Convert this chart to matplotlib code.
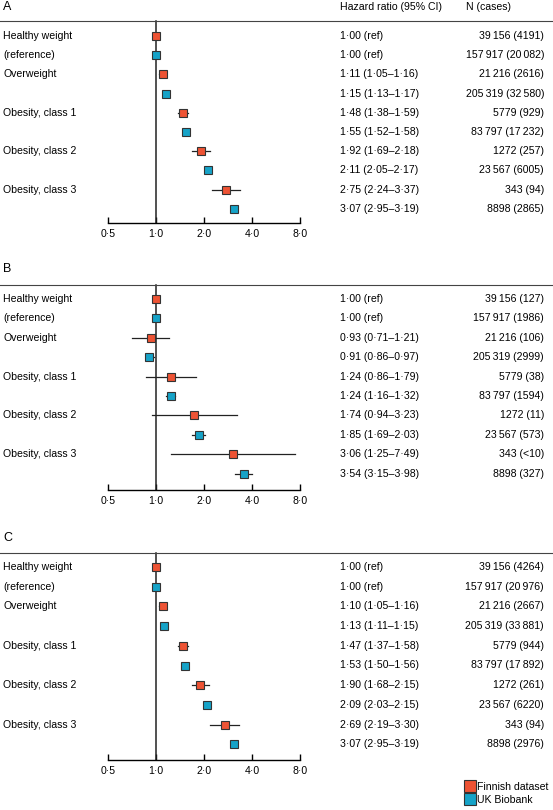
import numpy as np
import matplotlib.pyplot as plt
from matplotlib.lines import Line2D

W, H = 553, 810
ORANGE = "#EE5334"
TEAL = "#16A3C8"

row_labels = ["Healthy weight", "(reference)", "Overweight", "", "Obesity, class 1", "",
              "Obesity, class 2", "", "Obesity, class 3", ""]

# per panel: HR, lo, hi for rows (Finnish / UK Biobank alternating), N text
panels = {
    "A": dict(
        hr=[1.00, 1.00, 1.11, 1.15, 1.48, 1.55, 1.92, 2.11, 2.75, 3.07],
        lo=[None, None, 1.05, 1.13, 1.38, 1.52, 1.69, 2.05, 2.24, 2.95],
        hi=[None, None, 1.16, 1.17, 1.59, 1.58, 2.18, 2.17, 3.37, 3.19],
        n=["39 156 (4191)", "157 917 (20 082)", "21 216 (2616)", "205 319 (32 580)", "5779 (929)",
           "83 797 (17 232)", "1272 (257)", "23 567 (6005)", "343 (94)", "8898 (2865)"]),
    "B": dict(
        hr=[1.00, 1.00, 0.93, 0.91, 1.24, 1.24, 1.74, 1.85, 3.06, 3.54],
        lo=[None, None, 0.71, 0.86, 0.86, 1.16, 0.94, 1.69, 1.25, 3.15],
        hi=[None, None, 1.21, 0.97, 1.79, 1.32, 3.23, 2.03, 7.49, 3.98],
        n=["39 156 (127)", "157 917 (1986)", "21 216 (106)", "205 319 (2999)", "5779 (38)",
           "83 797 (1594)", "1272 (11)", "23 567 (573)", "343 (<10)", "8898 (327)"]),
    "C": dict(
        hr=[1.00, 1.00, 1.10, 1.13, 1.47, 1.53, 1.90, 2.09, 2.69, 3.07],
        lo=[None, None, 1.05, 1.11, 1.37, 1.50, 1.68, 2.03, 2.19, 2.95],
        hi=[None, None, 1.16, 1.15, 1.58, 1.56, 2.15, 2.15, 3.30, 3.19],
        n=["39 156 (4264)", "157 917 (20 976)", "21 216 (2667)", "205 319 (33 881)", "5779 (944)",
           "83 797 (17 892)", "1272 (261)", "23 567 (6220)", "343 (94)", "8898 (2976)"]),
}
ticks = [0.5, 1, 2, 4, 8]

# layout in pixels: panel letter y, separator y, axis y, first row y, row spacing
layout = {"A": (7, 21, 223, 36, 19.2), "B": (269, 285, 490, 299, 19.4), "C": (538, 553, 760, 567, 19.7)}

plt.rcParams["font.family"] = ["Liberation Sans", "DejaVu Sans"]
plt.rcParams["font.size"] = 7.6
fig = plt.figure(figsize=(W / 100, H / 100), dpi=100)

def fx(x): return x / W
def fy(y): return 1 - y / H

def fmt(v): return f"{v:.2f}".replace(".", "·")

def nfmt(s):
    num, case = s.split(" (")
    return num.replace(" ", "\u2009") + " (" + case.replace(" ", "\u2009")

ax_l, ax_r = 108, 300  # x of 0.5 and 8.0
for key, d in panels.items():
    ly, sep, bot, y0, dy = layout[key]
    ax = fig.add_axes([fx(ax_l), fy(bot), (ax_r - ax_l) / W, (bot - sep) / H])
    ax.set_xscale("log", base=2)
    ax.set_xlim(0.5, 8)
    ax.set_ylim(bot, sep)
    for s in ["top", "right", "left"]:
        ax.spines[s].set_visible(False)
    ax.spines["bottom"].set_linewidth(1.0)
    ax.set_yticks([])
    ax.set_xticks(ticks)
    ax.set_xticklabels([f"{t:.1f}".replace(".", "·") for t in ticks])
    ax.xaxis.set_minor_locator(plt.NullLocator())
    ax.tick_params(axis="x", direction="in", length=4, width=1.0, pad=4)
    ax.axvline(1, color="#222222", lw=1.1, clip_on=False)
    fig.add_artist(Line2D([0, 1], [fy(sep), fy(sep)], color="#444444", lw=0.8))
    fig.text(fx(3), fy(ly), key, fontsize=9, va="center", ha="left")
    if key == "A":
        fig.text(fx(340), fy(ly), "Hazard ratio (95% CI)", va="center")
        fig.text(fx(466), fy(ly), "N (cases)", va="center")
    for i in range(10):
        y = y0 + i * dy
        col = ORANGE if i % 2 == 0 else TEAL
        hr, lo, hi = d["hr"][i], d["lo"][i], d["hi"][i]
        if lo is not None:
            ax.plot([lo, hi], [y, y], color="#222222", lw=0.9, zorder=2, clip_on=False)
        ax.plot(hr, y, marker="s", ms=6.3, mfc=col, mec="#333333", mew=0.8, zorder=3)
        if row_labels[i]:
            fig.text(fx(3), fy(y), row_labels[i], va="center")
        ci = "(ref)" if lo is None else f"({fmt(lo)}–{fmt(hi)})"
        fig.text(fx(340), fy(y), f"{fmt(hr)} {ci}", va="center")
        fig.text(fx(544), fy(y), nfmt(d["n"][i]), va="center", ha="right")

handles = [Line2D([], [], ls="", marker="s", ms=8, mfc=ORANGE, mec="#333333", mew=0.8),
           Line2D([], [], ls="", marker="s", ms=8, mfc=TEAL, mec="#333333", mew=0.8)]
fig.legend(handles, ["Finnish dataset", "UK Biobank"], loc="lower left",
           bbox_to_anchor=(fx(457), fy(811)), frameon=False, handletextpad=0.1,
           labelspacing=0.25, borderpad=0.1, handlelength=1.2)

fig.savefig("out.png", dpi=100, facecolor="white")
